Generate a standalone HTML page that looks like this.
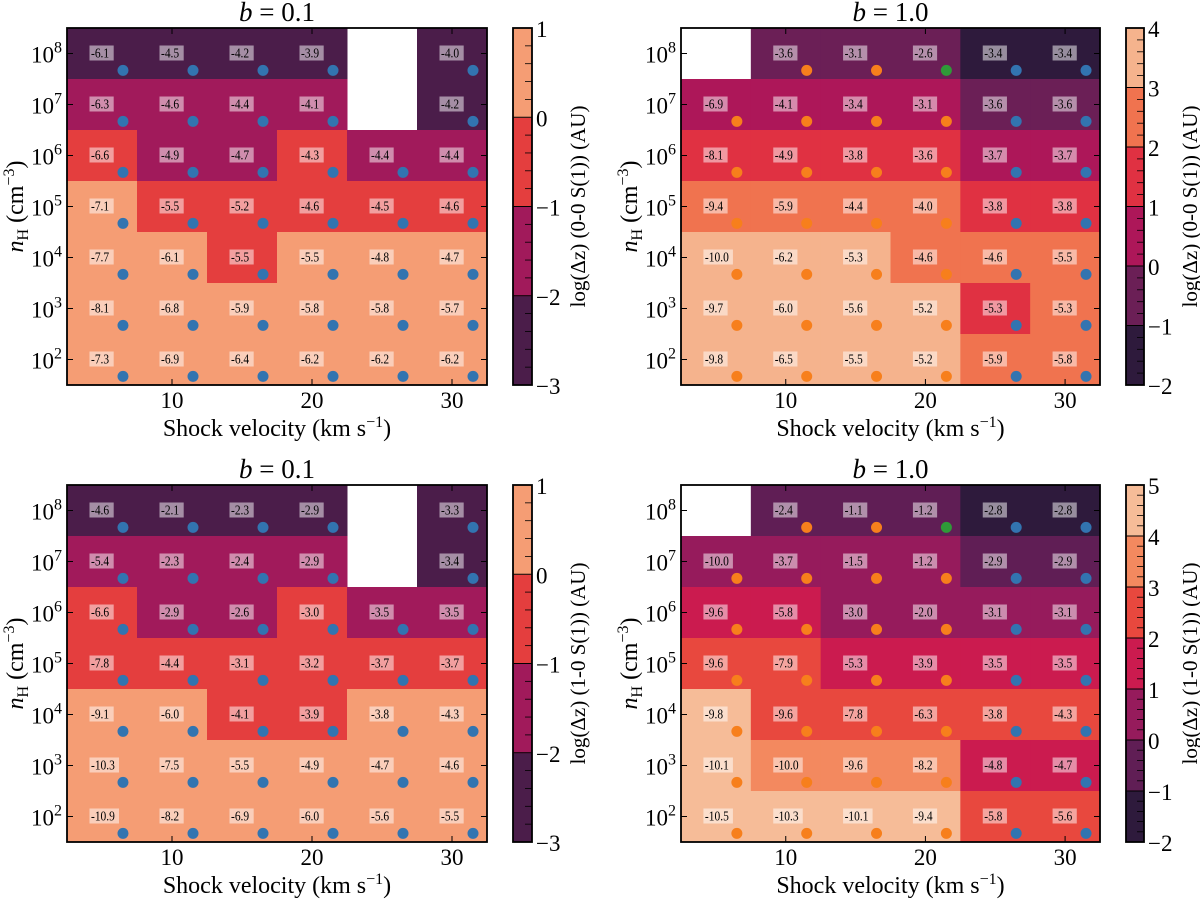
<!DOCTYPE html>
<html><head><meta charset="utf-8">
<style>
body{margin:0;background:#fff;}
svg{display:block;font-family:"Liberation Serif",serif;}
</style></head>
<body>
<svg id="fig" width="1200" height="899" viewBox="0 0 1200 899"></svg>
<script>
const vel=[5,10,15,20,25,30];
const logn=[8,7,6,5,4,3,2];
const xTicks=[10,20,30];

const tlZ=[[-2.5,-2.5,-2.5,-2.5,null,-2.5],[-1.5,-1.5,-1.5,-1.5,null,-2.5],[-0.5,-1.5,-1.5,-0.5,-1.5,-1.5],[0.5,-0.5,-0.5,-0.5,-0.5,-0.5],[0.5,0.5,-0.5,0.5,0.5,0.5],[0.5,0.5,0.5,0.5,0.5,0.5],[0.5,0.5,0.5,0.5,0.5,0.5]];
const tlLab=[[-6.1,-4.5,-4.2,-3.9,null,-4.0],[-6.3,-4.6,-4.4,-4.1,null,-4.2],[-6.6,-4.9,-4.7,-4.3,-4.4,-4.4],[-7.1,-5.5,-5.2,-4.6,-4.5,-4.6],[-7.7,-6.1,-5.5,-5.5,-4.8,-4.7],[-8.1,-6.8,-5.9,-5.8,-5.8,-5.7],[-7.3,-6.9,-6.4,-6.2,-6.2,-6.2]];
const trZ=[[null,-0.5,-0.5,-0.5,-1.5,-1.5],[0.5,0.5,0.5,0.5,-0.5,-0.5],[1.5,1.5,1.5,1.5,0.5,0.5],[2.5,2.5,2.5,2.5,1.5,1.5],[3.5,3.5,3.5,2.5,2.5,2.5],[3.5,3.5,3.5,3.5,1.5,2.5],[3.5,3.5,3.5,3.5,2.5,2.5]];
const trLab=[[null,-3.6,-3.1,-2.6,-3.4,-3.4],[-6.9,-4.1,-3.4,-3.1,-3.6,-3.6],[-8.1,-4.9,-3.8,-3.6,-3.7,-3.7],[-9.4,-5.9,-4.4,-4.0,-3.8,-3.8],[-10.0,-6.2,-5.3,-4.6,-4.6,-5.5],[-9.7,-6.0,-5.6,-5.2,-5.3,-5.3],[-9.8,-6.5,-5.5,-5.2,-5.9,-5.8]];
const blZ=[[-2.5,-2.5,-2.5,-2.5,null,-2.5],[-1.5,-1.5,-1.5,-1.5,null,-2.5],[-0.5,-1.5,-1.5,-0.5,-1.5,-1.5],[-0.5,-0.5,-0.5,-0.5,-0.5,-0.5],[0.5,0.5,-0.5,-0.5,0.5,0.5],[0.5,0.5,0.5,0.5,0.5,0.5],[0.5,0.5,0.5,0.5,0.5,0.5]];
const blLab=[[-4.6,-2.1,-2.3,-2.9,null,-3.3],[-5.4,-2.3,-2.4,-2.9,null,-3.4],[-6.6,-2.9,-2.6,-3.0,-3.5,-3.5],[-7.8,-4.4,-3.1,-3.2,-3.7,-3.7],[-9.1,-6.0,-4.1,-3.9,-3.8,-4.3],[-10.3,-7.5,-5.5,-4.9,-4.7,-4.6],[-10.9,-8.2,-6.9,-6.0,-5.6,-5.5]];
const brZ=[[null,-0.5,-0.5,-0.5,-1.5,-1.5],[0.5,0.5,0.5,0.5,-0.5,-0.5],[1.5,1.5,0.5,0.5,0.5,0.5],[2.5,2.5,1.5,1.5,1.5,1.5],[4.5,2.5,2.5,2.5,2.5,2.5],[4.5,3.5,3.5,3.5,1.5,1.5],[4.5,4.5,4.5,4.5,2.5,2.5]];
const brLab=[[null,-2.4,-1.1,-1.2,-2.8,-2.8],[-10.0,-3.7,-1.5,-1.2,-2.9,-2.9],[-9.6,-5.8,-3.0,-2.0,-3.1,-3.1],[-9.6,-7.9,-5.3,-3.9,-3.5,-3.5],[-9.8,-9.6,-7.8,-6.3,-3.8,-4.3],[-10.1,-10.0,-9.6,-8.2,-4.8,-4.7],[-10.5,-10.3,-10.1,-9.4,-5.8,-5.6]];
const dotsB01=[["b","b","b","b","b","b"],["b","b","b","b","b","b"],["b","b","b","b","b","b"],["b","b","b","b","b","b"],["b","b","b","b","b","b"],["b","b","b","b","b","b"],["b","b","b","b","b","b"]];
const dotsB10=[["o","o","o","g","b","b"],["o","o","o","o","b","b"],["o","o","o","o","b","b"],["o","o","o","o","b","b"],["o","o","o","o","b","b"],["o","o","o","o","b","b"],["o","o","o","o","b","b"]];
const cmap4=["#4b1d4a","#a11a5b","#e43e3e","#f59d74"];
const cmap6=["#2e1a3c","#6b1f56","#ad1759","#e03142","#f0734f","#f5b38d"];
const cmap7=["#2e1a3c","#601e55","#961b5c","#cb1b4f","#e8483e","#f3895f","#f6bc98"];
const dotCol={b:"#3274b0",o:"#f77f1c",g:"#2f9a38"};

const NS="http://www.w3.org/2000/svg";
const fig=document.getElementById('fig');
function mk(tag,attrs,parent){const e=document.createElementNS(NS,tag);for(const k in attrs)e.setAttribute(k,attrs[k]);(parent||fig).appendChild(e);return e;}
function txt(parent,x,y,size,anchor,sx){
  return mk('text',{transform:`translate(${x},${y}) scale(${sx||1},1)`,x:0,y:0,'font-size':size,'text-anchor':anchor},parent);
}

function panel(cfg){
  const g=mk('g',{});
  
  
  const L=cfg.x0,R=cfg.x1,T=cfg.y0,B=cfg.y1;
  const xs=v=>L+(v-2.5)/30*(R-L);
  const ys=n=>T+(8.5-n)/7*(B-T);
  const cs=z=>B-(z-cfg.zmin)/(cfg.zmax-cfg.zmin)*(B-T);
  cfg.z.forEach((row,i)=>row.forEach((z,j)=>{
    if(z===null)return;
    const bin=Math.min(cfg.cmap.length-1,Math.max(0,Math.floor(z-cfg.zmin)));
    const r=mk('rect',{x:xs(vel[j]-2.5),y:ys(logn[i]+0.5),width:xs(vel[j]+2.5)-xs(vel[j]-2.5)+0.5,height:ys(logn[i]-0.5)-ys(logn[i]+0.5)+0.5,fill:cfg.cmap[bin]},g);
    
    
  }));
  cfg.lab.forEach((row,i)=>row.forEach((v,j)=>{
    if(v===null)return;
    const t=v.toFixed(1);
    const w=t.length*5.3+3;
    const bx=xs(vel[j])-12.5, by=ys(logn[i])-8;
    const bg=mk('rect',{x:bx,y:by,width:w,height:15,fill:'#fff','fill-opacity':0.5},g);
    
    
    const tx=txt(g,bx+1.5,by+12,14,'start',0.82);
    tx.textContent=t;
    
    
    const c=mk('circle',{cx:xs(vel[j]+1.5),cy:ys(logn[i]-0.33),r:5.5,fill:dotCol[cfg.dots[i][j]]},g);
    
    
  }));
  const fr=mk('rect',{x:L,y:T,width:R-L,height:B-T,fill:'none',stroke:'#000','stroke-width':1.8},g);
  
  
  xTicks.forEach(v=>{
    mk('line',{x1:xs(v),x2:xs(v),y1:B,y2:B-6,stroke:'#000','stroke-width':1},g);
    mk('line',{x1:xs(v),x2:xs(v),y1:T,y2:T+6,stroke:'#000','stroke-width':1},g);
    const tl=txt(g,xs(v),B+23,23,'middle');
    tl.textContent=v;
    
    
  });
  logn.forEach(n=>{
    mk('line',{x1:L,x2:L+6,y1:ys(n),y2:ys(n),stroke:'#000','stroke-width':1},g);
    mk('line',{x1:R,x2:R-6,y1:ys(n),y2:ys(n),stroke:'#000','stroke-width':1},g);
    const tl=txt(g,L-5,ys(n)+9,23,'end');
    tl.innerHTML='10';
    const sp=mk('tspan',{dy:-10,'font-size':16},tl);sp.textContent=n;
    
    
  });
  const ti=txt(g,(L+R)/2,T-7,27,'middle');
  ti.innerHTML='<tspan font-style="italic">b</tspan> = '+cfg.b;
  
  
  const xl=txt(g,(L+R)/2,B+51,24,'middle');
  xl.innerHTML='Shock velocity (km s<tspan dy="-9" font-size="16">−1</tspan><tspan dy="9">)</tspan>';
  
  
  const yl=mk('text',{transform:`translate(${L-44},${(T+B)/2}) rotate(-90)`,'font-size':24,'text-anchor':'middle'},g);
  yl.innerHTML='<tspan font-style="italic">n</tspan><tspan dy="5" font-size="16">H</tspan><tspan dy="-5"> (cm</tspan><tspan dy="-9" font-size="16">−3</tspan><tspan dy="9">)</tspan>';
  
  
  const cb=mk('g',{},g);
  
  
  cfg.cmap.forEach((c,k)=>{
    mk('rect',{x:cfg.cbx,y:cs(cfg.zmin+k+1),width:cfg.cbw,height:cs(cfg.zmin+k)-cs(cfg.zmin+k+1)+0.5,fill:c},cb);
  });
  for(let z=cfg.zmin;z<=cfg.zmax+1e-9;z+=0.2){
    const major=Math.abs(z-Math.round(z))<1e-6;
    mk('line',{x1:cfg.cbx+cfg.cbw,x2:cfg.cbx+cfg.cbw-(major?cfg.cbw:7),y1:cs(z),y2:cs(z),stroke:'#000','stroke-width':major?1:0.8},cb);
  }
  mk('rect',{x:cfg.cbx,y:T,width:cfg.cbw,height:B-T,fill:'none',stroke:'#000','stroke-width':1.8},cb);
  for(let z=cfg.zmin;z<=cfg.zmax;z++){
    const t=txt(cb,cfg.cbx+cfg.cbw+4,cs(z)+9,23,'start');
    t.textContent=z<0?'−'+(-z):String(z);
    
    
  }
  const cl=mk('text',{transform:`translate(${cfg.cbx+cfg.cbw+53},${(T+B)/2}) rotate(-90)`,'font-size':21,'text-anchor':'middle'},g);
  cl.textContent=cfg.cblabel;
  
  
}

panel({name:'panel-00-b01',x0:67,x1:487,y0:28,y1:385,z:tlZ,lab:tlLab,dots:dotsB01,cmap:cmap4,zmin:-3,zmax:1,cbx:513,cbw:19,b:'0.1',cblabel:'log(Δz) (0-0 S(1)) (AU)'});
panel({name:'panel-00-b10',x0:681,x1:1100,y0:28,y1:385,z:trZ,lab:trLab,dots:dotsB10,cmap:cmap6,zmin:-2,zmax:4,cbx:1126,cbw:18,b:'1.0',cblabel:'log(Δz) (0-0 S(1)) (AU)'});
panel({name:'panel-10-b01',x0:67,x1:487,y0:485,y1:842,z:blZ,lab:blLab,dots:dotsB01,cmap:cmap4,zmin:-3,zmax:1,cbx:513,cbw:19,b:'0.1',cblabel:'log(Δz) (1-0 S(1)) (AU)'});
panel({name:'panel-10-b10',x0:681,x1:1100,y0:485,y1:842,z:brZ,lab:brLab,dots:dotsB10,cmap:cmap7,zmin:-2,zmax:5,cbx:1126,cbw:18,b:'1.0',cblabel:'log(Δz) (1-0 S(1)) (AU)'});
</script>
</body></html>
